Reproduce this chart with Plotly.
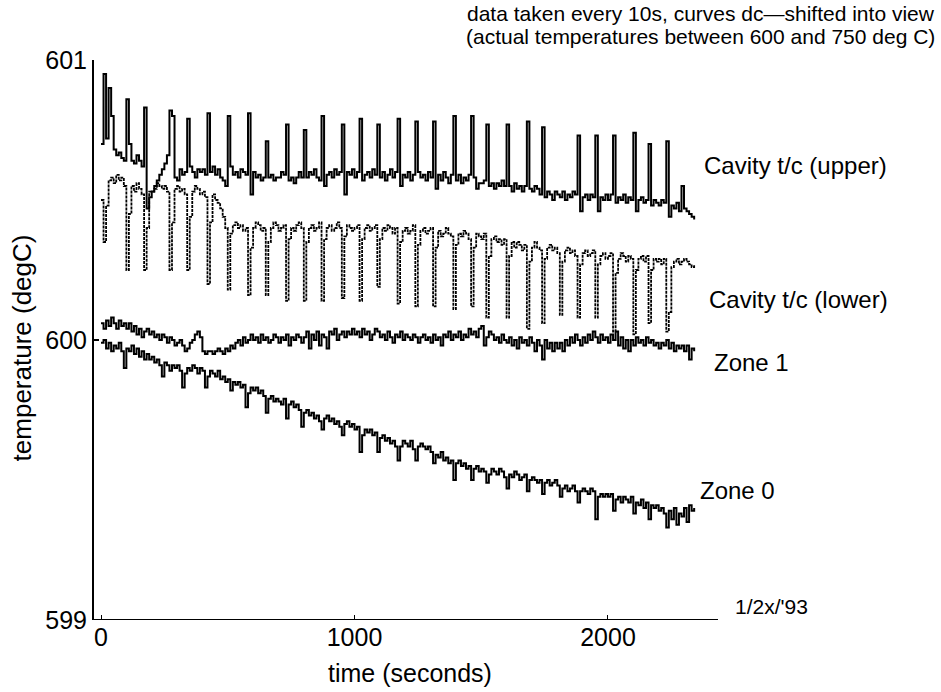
import plotly.graph_objects as go

# time axis: one sample every 10 s
time_s = list(range(0, 2350, 10))

upper = [
    600.70, 600.95, 600.72, 600.90, 600.80, 600.68, 600.66, 600.67, 600.65, 600.64,
    600.86, 600.70, 600.64, 600.63, 600.66, 600.64, 600.62, 600.83, 600.47, 600.51,
    600.53, 600.55, 600.57, 600.59, 600.61, 600.63, 600.66, 600.82, 600.80, 600.58,
    600.57, 600.61, 600.59, 600.60, 600.79, 600.62, 600.60, 600.58, 600.61, 600.60,
    600.61, 600.59, 600.81, 600.60, 600.62, 600.59, 600.61, 600.58, 600.57, 600.55,
    600.80, 600.62, 600.59, 600.60, 600.58, 600.61, 600.60, 600.59, 600.81, 600.52,
    600.60, 600.58, 600.59, 600.57, 600.58, 600.71, 600.58, 600.59, 600.57, 600.58,
    600.58, 600.60, 600.59, 600.77, 600.57, 600.58, 600.56, 600.58, 600.60, 600.58,
    600.75, 600.58, 600.60, 600.59, 600.61, 600.58, 600.57, 600.80, 600.55, 600.59,
    600.60, 600.58, 600.61, 600.59, 600.60, 600.77, 600.52, 600.60, 600.59, 600.61,
    600.58, 600.60, 600.79, 600.57, 600.59, 600.60, 600.58, 600.61, 600.59, 600.77,
    600.58, 600.60, 600.57, 600.59, 600.61, 600.58, 600.60, 600.79, 600.55, 600.59,
    600.58, 600.60, 600.57, 600.59, 600.78, 600.60, 600.58, 600.59, 600.57, 600.60,
    600.58, 600.78, 600.54, 600.59, 600.57, 600.60, 600.58, 600.56, 600.59, 600.80,
    600.57, 600.59, 600.56, 600.58, 600.57, 600.59, 600.80, 600.58, 600.54, 600.56,
    600.56, 600.57, 600.77, 600.55, 600.56, 600.54, 600.56, 600.55, 600.57, 600.55,
    600.77, 600.55, 600.53, 600.56, 600.54, 600.55, 600.53, 600.55, 600.78, 600.54,
    600.53, 600.55, 600.54, 600.52, 600.76, 600.51, 600.53, 600.52, 600.50, 600.53,
    600.52, 600.51, 600.53, 600.50, 600.52, 600.51, 600.53, 600.52, 600.73, 600.46,
    600.51, 600.52, 600.50, 600.52, 600.51, 600.73, 600.46, 600.51, 600.50, 600.52,
    600.50, 600.52, 600.73, 600.49, 600.51, 600.50, 600.52, 600.49, 600.51, 600.50,
    600.74, 600.46, 600.50, 600.51, 600.49, 600.50, 600.70, 600.48, 600.50, 600.49,
    600.48, 600.50, 600.49, 600.71, 600.44, 600.48, 600.47, 600.49, 600.46, 600.55,
    600.47, 600.46, 600.45, 600.44, 600.43,
]

lower = [
    600.50, 600.35, 600.48, 600.57, 600.58, 600.56, 600.59, 600.57, 600.58, 600.55,
    600.25, 600.45, 600.55, 600.53, 600.56, 600.54, 600.52, 600.25, 600.40, 600.53,
    600.53, 600.54, 600.56, 600.55, 600.54, 600.55, 600.53, 600.25, 600.42, 600.54,
    600.55, 600.53, 600.54, 600.52, 600.25, 600.44, 600.53, 600.55, 600.54, 600.52,
    600.53, 600.51, 600.20, 600.42, 600.52, 600.50, 600.49, 600.47, 600.44, 600.40,
    600.18, 600.38, 600.41, 600.42, 600.40, 600.41, 600.39, 600.40, 600.16, 600.33,
    600.40, 600.42, 600.41, 600.39, 600.40, 600.16, 600.35, 600.40, 600.42, 600.41,
    600.39, 600.40, 600.41, 600.14, 600.36, 600.40, 600.39, 600.41, 600.42, 600.40,
    600.14, 600.35, 600.40, 600.41, 600.39, 600.40, 600.42, 600.14, 600.36, 600.40,
    600.41, 600.39, 600.40, 600.42, 600.40, 600.15, 600.37, 600.41, 600.40, 600.39,
    600.40, 600.41, 600.14, 600.36, 600.40, 600.41, 600.39, 600.40, 600.41, 600.19,
    600.36, 600.40, 600.39, 600.41, 600.40, 600.38, 600.40, 600.13, 600.35, 600.39,
    600.40, 600.38, 600.39, 600.41, 600.12, 600.34, 600.39, 600.40, 600.38, 600.39,
    600.40, 600.12, 600.33, 600.39, 600.37, 600.38, 600.40, 600.38, 600.37, 600.11,
    600.34, 600.38, 600.37, 600.39, 600.38, 600.36, 600.12, 600.33, 600.38, 600.37,
    600.36, 600.38, 600.08, 600.30, 600.36, 600.37, 600.35, 600.36, 600.34, 600.36,
    600.08, 600.30, 600.35, 600.33, 600.35, 600.34, 600.32, 600.34, 600.04, 600.28,
    600.33, 600.35, 600.33, 600.32, 600.06, 600.29, 600.33, 600.34, 600.32, 600.33,
    600.31, 600.09, 600.28, 600.32, 600.33, 600.31, 600.32, 600.30, 600.08, 600.27,
    600.31, 600.32, 600.30, 600.31, 600.32, 600.08, 600.27, 600.30, 600.31, 600.29,
    600.30, 600.31, 600.03, 600.24, 600.29, 600.31, 600.30, 600.28, 600.30, 600.29,
    600.02, 600.25, 600.29, 600.30, 600.28, 600.30, 600.06, 600.25, 600.29, 600.28,
    600.29, 600.27, 600.29, 600.03, 600.10, 600.26, 600.28, 600.29, 600.27, 600.28,
    600.29, 600.28, 600.27, 600.26, 600.27,
]

zone1 = [
    600.06, 600.04, 600.07, 600.05, 600.08, 600.06, 600.04, 600.07, 600.05, 600.06,
    600.04, 600.06, 600.03, 600.05, 600.02, 600.04, 600.01, 600.03, 600.04, 600.02,
    600.03, 600.01, 600.02, 600.00, 600.02, 600.01, 599.99, 600.01, 600.00, 599.98,
    599.99, 600.00, 599.98, 599.96, 599.97, 599.99, 600.00, 600.02, 600.03, 600.01,
    599.96, 599.95, 599.96, 599.96, 599.95, 599.96, 599.97, 599.96, 599.95, 599.97,
    599.96, 599.98, 599.97, 599.99, 600.00, 599.98, 600.01, 599.99, 600.00, 600.02,
    600.00, 600.01, 599.99, 600.02, 600.00, 600.01, 599.99, 600.00, 600.02, 600.01,
    599.99, 600.01, 600.00, 600.02, 599.98, 600.01, 600.00, 600.02, 600.01, 599.99,
    600.01, 600.03, 599.97, 600.02, 600.00, 600.03, 599.98, 600.02, 600.01, 599.97,
    600.03, 600.02, 600.04, 600.00, 600.02, 600.03, 600.01, 600.03, 600.02, 600.04,
    600.02, 600.03, 600.01, 600.04, 600.02, 600.03, 600.00, 600.02, 600.04, 600.03,
    600.01, 600.02, 600.00, 600.03, 600.01, 599.99, 600.02, 600.01, 600.03, 600.00,
    600.02, 600.01, 600.00, 600.02, 600.01, 599.99, 600.01, 600.02, 600.00, 600.01,
    599.99, 600.02, 600.00, 600.01, 599.98, 600.02, 600.01, 600.03, 600.00, 600.02,
    600.01, 600.03, 600.00, 600.02, 600.01, 600.04, 600.02, 600.03, 600.01, 600.04,
    600.05, 599.98, 600.01, 600.03, 600.02, 600.00, 600.01, 599.99, 600.02, 600.00,
    599.99, 600.01, 599.98, 600.00, 599.97, 600.01, 599.99, 600.00, 599.98, 600.01,
    599.99, 599.96, 600.00, 599.98, 599.93, 600.00, 599.97, 599.99, 599.96, 599.99,
    599.97, 599.99, 599.96, 600.00, 599.98, 600.01, 599.99, 600.02, 600.00, 599.98,
    600.01, 599.99, 600.02, 600.00, 600.03, 600.01, 599.99, 600.02, 600.00, 600.01,
    599.99, 600.02, 600.00, 600.03, 599.98, 600.01, 599.97, 600.00, 599.96, 600.00,
    599.98, 600.01, 599.99, 600.00, 599.98, 600.01, 599.99, 600.00, 599.98, 599.99,
    599.97, 599.99, 599.98, 600.00, 599.97, 599.99, 599.96, 599.98, 599.97, 599.98,
    599.96, 599.98, 599.93, 599.97, 599.96,
]

zone0 = [
    599.99, 600.00, 599.97, 599.99, 599.96, 599.98, 599.97, 599.99, 599.96, 599.90,
    599.97, 599.96, 599.98, 599.95, 599.97, 599.94, 599.96, 599.93, 599.95, 599.93,
    599.94, 599.92, 599.93, 599.91, 599.87, 599.92, 599.91, 599.89, 599.91, 599.90,
    599.91, 599.89, 599.83, 599.88, 599.90, 599.89, 599.91, 599.90, 599.88, 599.90,
    599.89, 599.83, 599.87, 599.89, 599.88, 599.87, 599.89, 599.86, 599.87, 599.85,
    599.86, 599.82, 599.85, 599.84, 599.85, 599.83, 599.84, 599.76, 599.81, 599.83,
    599.82, 599.83, 599.81, 599.82, 599.80, 599.74, 599.79, 599.80, 599.78, 599.79,
    599.78, 599.77, 599.79, 599.72, 599.77, 599.78, 599.76, 599.77, 599.75, 599.69,
    599.74, 599.75, 599.73, 599.74, 599.72, 599.73, 599.71, 599.68, 599.72, 599.73,
    599.71, 599.72, 599.70, 599.71, 599.69, 599.66, 599.70, 599.71, 599.69, 599.70,
    599.68, 599.69, 599.60, 599.66, 599.68, 599.67, 599.68, 599.66, 599.67, 599.60,
    599.65, 599.66, 599.64, 599.65, 599.63, 599.64, 599.62, 599.57, 599.62, 599.64,
    599.63, 599.62, 599.64, 599.61, 599.57, 599.62, 599.63, 599.62, 599.61, 599.62,
    599.60, 599.56, 599.59, 599.58, 599.60, 599.57, 599.58, 599.56, 599.57, 599.50,
    599.56, 599.57, 599.55, 599.56, 599.54, 599.55, 599.50, 599.54, 599.55, 599.53,
    599.54, 599.53, 599.49, 599.52, 599.54, 599.53, 599.52, 599.54, 599.53, 599.51,
    599.47, 599.52, 599.51, 599.53, 599.52, 599.50, 599.51, 599.52, 599.46, 599.50,
    599.51, 599.50, 599.49, 599.50, 599.45, 599.49, 599.50, 599.48, 599.49, 599.50,
    599.48, 599.44, 599.47, 599.48, 599.46, 599.47, 599.48, 599.46, 599.42, 599.46,
    599.47, 599.46, 599.45, 599.47, 599.46, 599.36, 599.44, 599.45, 599.44, 599.45,
    599.44, 599.45, 599.39, 599.43, 599.44, 599.42, 599.44, 599.43, 599.42, 599.44,
    599.38, 599.42, 599.41, 599.43, 599.40, 599.42, 599.36, 599.41, 599.40, 599.41,
    599.39, 599.40, 599.38, 599.33, 599.39, 599.36, 599.40, 599.34, 599.38, 599.37,
    599.40, 599.35, 599.41, 599.39, 599.40,
]

y_ticks = [599, 600, 601]
x_ticks = [0, 1000, 2000]
curve_labels = ["Cavity t/c (upper)", "Cavity t/c (lower)", "Zone 1", "Zone 0"]
title_lines = ["data taken every 10s, curves dc\u2014shifted into view",
               "(actual temperatures between 600 and 750 deg C)"]

FONT = "Liberation Sans, Arial, Helvetica, sans-serif"
fig = go.Figure()

for name, ys, dash, w in [("upper", upper, "solid", 2.0), ("lower", lower, "3px,1px", 1.8),
                          ("zone1", zone1, "solid", 2.0), ("zone0", zone0, "solid", 2.0)]:
    fig.add_trace(go.Scatter(x=time_s[:len(ys)], y=ys, mode="lines", name=name,
                             line=dict(color="black", width=w, shape="hv", dash=dash),
                             hoverinfo="skip"))

# axis lines (left and bottom), as in the original plot
fig.add_shape(type="line", xref="paper", yref="y", x0=0, x1=0, y0=599, y1=601.01,
              line=dict(color="black", width=2))
fig.add_shape(type="line", xref="paper", yref="y", x0=0, x1=0.7405, y0=599, y1=599,
              line=dict(color="black", width=2))

ann = []
# curve labels
label_pos = [(2371, 600.625), (2390, 600.146), (2410, 599.921), (2355, 599.464)]
for txt, (lx, ly) in zip(curve_labels, label_pos):
    ann.append(dict(x=lx, y=ly, xref="x", yref="y", text=txt, showarrow=False,
                    xanchor="left", yanchor="middle", font=dict(size=24)))
# title lines
ann.append(dict(x=1, y=1.0835, xref="paper", yref="paper", text=title_lines[0], showarrow=False,
                xanchor="right", yanchor="middle", font=dict(size=21)))
ann.append(dict(x=1, y=1.0425, xref="paper", yref="paper", text=title_lines[1], showarrow=False,
                xanchor="right", yanchor="middle", font=dict(size=21)))
# axis titles
ann.append(dict(x=0, y=599.97, xref="paper", yref="y", xshift=-71, text="temperature (degC)",
                showarrow=False, textangle=-90, xanchor="center", yanchor="middle",
                font=dict(size=26)))
ann.append(dict(x=1219, y=0, xref="x", yref="paper", yshift=-53, text="time (seconds)",
                showarrow=False, xanchor="center", yanchor="middle", font=dict(size=25)))
# date stamp
ann.append(dict(x=2493, y=599, xref="x", yref="y", text="1/2x/'93", showarrow=False,
                xanchor="left", yanchor="bottom", font=dict(size=21)))

fig.update_layout(
    width=941, height=692,
    margin=dict(l=93, r=4, t=60, b=72),
    plot_bgcolor="white", paper_bgcolor="white",
    showlegend=False,
    font=dict(family=FONT, color="black"),
    annotations=ann,
    xaxis=dict(range=[-31.6, 3298], showgrid=False, zeroline=False, showline=False,
               tickvals=x_ticks, ticktext=[str(v) for v in x_ticks], ticks="inside",
               ticklen=5, tickcolor="black", tickfont=dict(size=25)),
    yaxis=dict(range=[599, 601], showgrid=False, zeroline=False, showline=False,
               tickvals=y_ticks, ticktext=[str(v) for v in y_ticks], ticks="inside",
               ticklen=6, tickwidth=2, tickcolor="black", tickfont=dict(size=25),
               ticklabelstandoff=5),
)

fig.write_html("out.html")
